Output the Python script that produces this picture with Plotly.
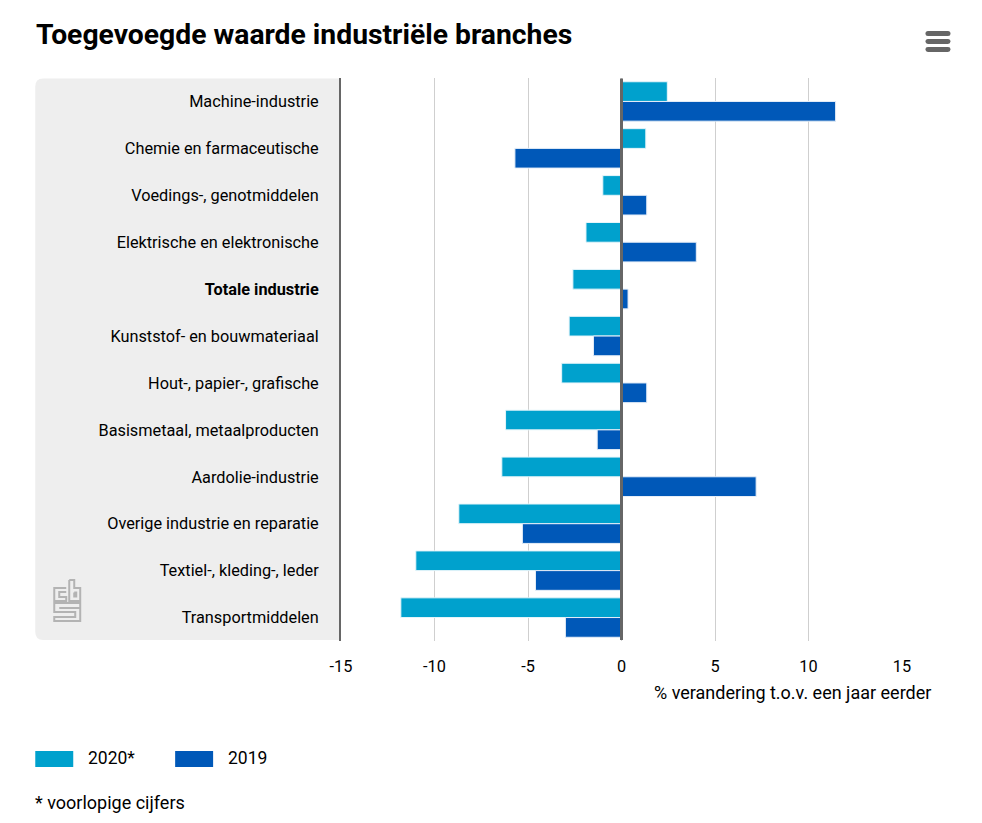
import plotly.graph_objects as go

categories = ["Machine-industrie", "Chemie en farmaceutische", "Voedings-, genotmiddelen",
              "Elektrische en elektronische", "<b>Totale industrie</b>", "Kunststof- en bouwmateriaal",
              "Hout-, papier-, grafische", "Basismetaal, metaalproducten", "Aardolie-industrie",
              "Overige industrie en reparatie", "Textiel-, kleding-, leder", "Transportmiddelen"]
v2020 = [2.45, 1.3, -1.0, -1.9, -2.6, -2.8, -3.2, -6.2, -6.4, -8.7, -11.0, -11.8]
v2019 = [11.45, -5.7, 1.35, 4.0, 0.35, -1.5, 1.35, -1.3, 7.2, -5.3, -4.6, -3.0]
ticks = [-15, -10, -5, 0, 5, 10, 15]
ticklabels = ["-15", "-10", "-5", "0", "5", "10", "15"]
FONT = "Roboto, sans-serif"
C20, C19 = "#00a1cd", "#0058b8"

# page has an 8px body margin: figure pixel = page pixel - 8
W, H = 966, 807
L, R, T, B = 341, 902.5, 77.5, 641
pw, ph = R - L, B - T
def px(x): return (x - L) / pw
def py(y): return (B - y) / ph

def rect(x0, y0, x1, y1, color):
    return dict(type="rect", xref="paper", yref="paper", x0=px(x0), x1=px(x1), y0=py(y1), y1=py(y0),
                fillcolor=color, line=dict(width=0))
def poly(points, color="#b3b3b3", width=2):
    d = "M" + " L".join(f"{px(a):.5f},{py(b):.5f}" for a, b in points)
    return dict(type="path", xref="paper", yref="paper", path=d, line=dict(color=color, width=width))
def pill(x0, x1, y, r=2.5, color="#666666"):
    p = lambda a, b: f"{px(a):.5f},{py(b):.5f}"
    d = (f"M{p(x0+r, y-r)} L{p(x1-r, y-r)} Q{p(x1, y-r)} {p(x1, y)} Q{p(x1, y+r)} {p(x1-r, y+r)} "
         f"L{p(x0+r, y+r)} Q{p(x0, y+r)} {p(x0, y)} Q{p(x0, y-r)} {p(x0+r, y-r)} Z")
    return dict(type="path", xref="paper", yref="paper", path=d, fillcolor=color, line=dict(width=0))

panel = (f"M{px(43):.5f},{py(78):.5f} L{px(L):.5f},{py(78):.5f} L{px(L):.5f},{py(640):.5f} "
         f"L{px(43):.5f},{py(640):.5f} Q{px(35):.5f},{py(640):.5f} {px(35):.5f},{py(632):.5f} "
         f"L{px(35):.5f},{py(86):.5f} Q{px(35):.5f},{py(78):.5f} {px(43):.5f},{py(78):.5f} Z")

shapes = [dict(type="path", xref="paper", yref="paper", path=panel, fillcolor="#eeeeee", line=dict(width=0), layer="below"),
          dict(type="line", xref="x", yref="paper", x0=0, x1=0, y0=py(640), y1=py(78), line=dict(color="#666666", width=3)),
          rect(35, 751, 73, 767, C20), rect(175, 751, 213, 767, C19)]
for y in (33, 41, 49):
    shapes.append(pill(926, 951, y))
# logo
shapes += [poly([(66, 588), (54, 588), (54, 601), (66, 601), (66, 597), (59, 597), (59, 592), (66, 592)]),
           poly([(69, 580), (74, 580), (74, 588), (80, 588), (80, 601), (69, 601), (69, 580)]),
           poly([(74, 592.5), (76, 592.5), (76, 596.5), (74, 596.5), (74, 592.5)]),
           poly([(80, 608), (80, 603), (54, 603), (54, 612), (75, 612), (75, 617), (54, 617), (54, 621), (80, 621), (80, 608), (59, 608)])]

fig = go.Figure()
fig.add_bar(name="2020*", y=categories, x=v2020, orientation="h", showlegend=False,
            marker=dict(color=C20, line=dict(color="#e6f5fa", width=1)))
fig.add_bar(name="2019", y=categories, x=v2019, orientation="h", showlegend=False,
            marker=dict(color=C19, line=dict(color="#e6eef8", width=1)))

def ann(text, x, y, anchor="left", size=18):
    return dict(text=text, xref="paper", yref="paper", x=px(x), y=py(y), xanchor=anchor, yanchor="middle",
                showarrow=False, font=dict(size=size))

fig.update_layout(
    width=W, height=H, autosize=False,
    margin=dict(l=L - 8, r=W - (R - 8), t=T - 8, b=H - (B - 8)),
    paper_bgcolor="white", plot_bgcolor="rgba(0,0,0,0)", barmode="group", bargap=0.16, bargroupgap=0.0,
    font=dict(family=FONT, size=16.3, color="black"),
    title=dict(text="<b>Toegevoegde waarde industriële branches</b>", x=28/W, xanchor="left", y=1-26/H,
               yanchor="middle", font=dict(size=28.3, color="black")),
    xaxis=dict(range=[-15, 15], tickvals=ticks, ticktext=ticklabels, showgrid=True, gridcolor="#cfcfcf", gridwidth=1,
               zeroline=False, ticks="outside", ticklen=10, tickcolor="rgba(0,0,0,0)"),
    yaxis=dict(autorange="reversed", ticks="outside", ticklen=17, tickcolor="rgba(0,0,0,0)", showline=True,
               linecolor="#666666", linewidth=2, showgrid=False),
    shapes=shapes,
    annotations=[
        ann("% verandering t.o.v. een jaar eerder", 934, 693, "right"),
        ann("2020*", 86, 758, size=17.5),
        ann("2019", 226, 758, size=17.5),
        ann("* voorlopige cijfers", 33, 803),
    ],
)
fig.write_html("out.html")
